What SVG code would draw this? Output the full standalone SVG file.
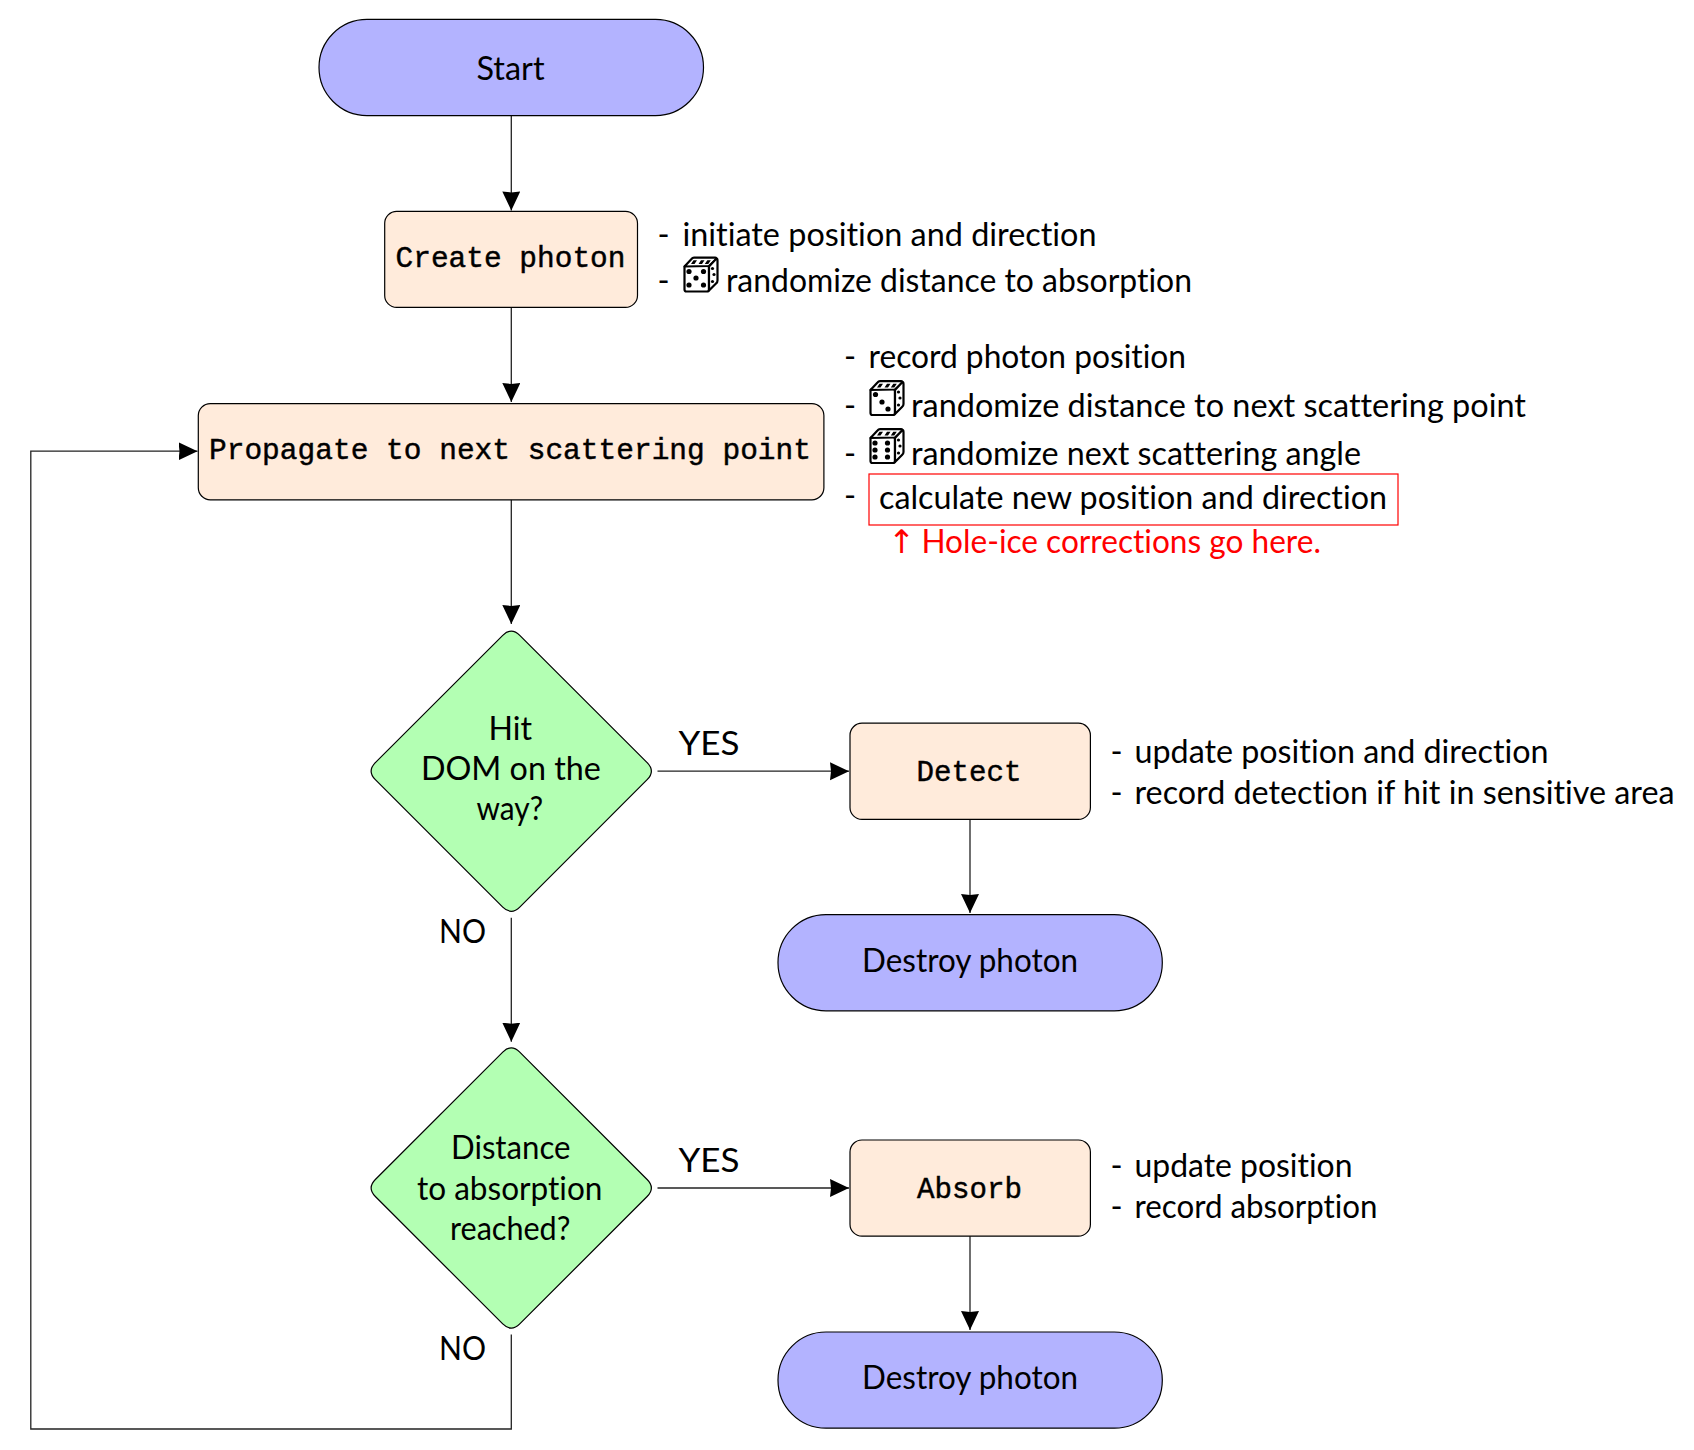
<svg xmlns="http://www.w3.org/2000/svg" xmlns:xlink="http://www.w3.org/1999/xlink" width="1694" height="1450" viewBox="0 0 1694 1450">
<style>
text{font-family:Lato,"Open Sans","Liberation Sans",sans-serif;font-size:32.5px;fill:#000;font-variant-ligatures:none}
.m{font-family:"Liberation Mono","DejaVu Sans Mono",monospace;font-size:30px;stroke:#000;stroke-width:.45}
.red{fill:#ff0000}
.pill{fill:#b3b3ff;stroke:#000;stroke-width:1.2}
.box{fill:#ffebdb;stroke:#000;stroke-width:1.2}
.dia{fill:#b3ffb3;stroke:#000;stroke-width:1.2}
.conn{fill:none;stroke:#222;stroke-width:1.3}
.pip{fill:#000;stroke:none}
.dieb{fill:#fff;stroke:#000;stroke-width:2.2;stroke-linejoin:round}
</style>
<defs>
<marker id="arr" markerUnits="userSpaceOnUse" markerWidth="20" markerHeight="20" refX="19" refY="9" orient="auto">
<path d="M0,0 L19,9 L0,18 L1,9 Z" fill="#000"/>
</marker>
<path id="diamond" d="M-8.5,-135.9 Q0,-144.4 8.5,-135.9 L135.9,-8.5 Q144.4,0 135.9,8.5 L8.5,135.9 Q0,144.4 -8.5,135.9 L-135.9,8.5 Q-144.4,0 -135.9,-8.5 Z"/>
<g id="die">
<path class="dieb" d="M1.5,11 Q1.5,9 3.5,9 L24,9 Q26,9 26,11 L26,33 Q26,35 24,35 L3.5,35 Q1.5,35 1.5,33 Z"/>
<path class="dieb" d="M1.5,10 L8.5,2.5 Q9.5,1.2 11,1.2 L32,1.2 Q34,1.2 33,3 L26,9.5 Z" />
<path class="dieb" d="M26,10 L33,2.5 Q34.5,1.4 34.5,4 L34.5,24 Q34.5,26 33,27 L26,34 Z"/>
<path class="pip" d="M8,7.5 l2.5,-3.8 h3.5 l-2.5,3.8 z M15.5,7.5 l2.5,-3.8 h3.5 l-2.5,3.8 z M21.8,7.5 l2.5,-3.8 h3.5 l-2.5,3.8 z"/>
<circle class="pip" cx="29.5" cy="12" r="1.6"/><circle class="pip" cx="31" cy="18" r="1.6"/><circle class="pip" cx="29.5" cy="25" r="1.6"/>
</g>
</defs>

<g id="connectors">
<path class="conn" marker-end="url(#arr)" d="M511.3,115.6 V210.4"/>
<path class="conn" marker-end="url(#arr)" d="M511.3,307.4 V402"/>
<path class="conn" marker-end="url(#arr)" d="M511.3,499.8 V624"/>
<path class="conn" marker-end="url(#arr)" d="M511.3,917.8 V1041.7"/>
<path class="conn" marker-end="url(#arr)" d="M657.5,771.2 H849"/>
<path class="conn" marker-end="url(#arr)" d="M657.5,1188 H849"/>
<path class="conn" marker-end="url(#arr)" d="M970,819.3 V913"/>
<path class="conn" marker-end="url(#arr)" d="M970,1236 V1330"/>
<path class="conn" marker-end="url(#arr)" d="M511.3,1334.5 V1429 H30.8 V451.2 H197.5"/>
</g>

<g id="start"><rect class="pill" x="319" y="19.4" width="384.5" height="96.2" rx="48" ry="48"/>
<text x="476.5" y="79.5" textLength="68" lengthAdjust="spacingAndGlyphs">Start</text></g>

<g id="create"><rect class="box" x="384.7" y="211.3" width="252.8" height="96.1" rx="12"/>
<text class="m" x="395.5" y="267.2" textLength="230" lengthAdjust="spacingAndGlyphs">Create photon</text></g>

<g id="propagate"><rect class="box" x="198.3" y="403.6" width="625.6" height="96.2" rx="12"/>
<text class="m" x="209" y="459" textLength="602" lengthAdjust="spacingAndGlyphs">Propagate to next scattering point</text></g>

<g id="hit"><use href="#diamond" class="dia" transform="translate(511.25,771.2)"/>
<text x="488.5" y="740" textLength="43.5" lengthAdjust="spacingAndGlyphs">Hit</text>
<text x="420.9" y="779.5" textLength="180" lengthAdjust="spacingAndGlyphs">DOM on the</text>
<text x="476.5" y="819.8" textLength="66.5" lengthAdjust="spacingAndGlyphs">way?</text></g>

<g id="distance"><use href="#diamond" class="dia" transform="translate(511.25,1188)"/>
<text x="451" y="1158.6" textLength="119.5" lengthAdjust="spacingAndGlyphs">Distance</text>
<text x="417" y="1200" textLength="185.4" lengthAdjust="spacingAndGlyphs">to absorption</text>
<text x="450" y="1239.5" textLength="120.4" lengthAdjust="spacingAndGlyphs">reached?</text></g>

<g id="detect"><rect class="box" x="850" y="723.2" width="240.4" height="96.2" rx="12"/>
<text class="m" x="916.5" y="781.2" textLength="105" lengthAdjust="spacingAndGlyphs">Detect</text></g>

<g id="absorb"><rect class="box" x="850" y="1140" width="240.4" height="96.2" rx="12"/>
<text class="m" x="917" y="1198.2" textLength="105" lengthAdjust="spacingAndGlyphs">Absorb</text></g>

<g id="destroy1"><rect class="pill" x="778" y="914.6" width="384.3" height="96.2" rx="48"/>
<text x="862" y="971.5" textLength="216" lengthAdjust="spacingAndGlyphs">Destroy photon</text></g>

<g id="destroy2"><rect class="pill" x="778" y="1332" width="384.3" height="96.2" rx="48"/>
<text x="862" y="1388.5" textLength="216" lengthAdjust="spacingAndGlyphs">Destroy photon</text></g>

<g id="labels">
<text x="678.5" y="755" textLength="61" lengthAdjust="spacingAndGlyphs">YES</text>
<text x="678.5" y="1172" textLength="61" lengthAdjust="spacingAndGlyphs">YES</text>
<text x="439" y="943" textLength="47" lengthAdjust="spacingAndGlyphs">NO</text>
<text x="439" y="1360" textLength="47" lengthAdjust="spacingAndGlyphs">NO</text>
</g>

<g id="notes-create">
<text x="657.5" y="245.5">-</text><text x="682.5" y="245.5" textLength="414" lengthAdjust="spacingAndGlyphs">initiate position and direction</text>
<text x="657.5" y="292">-</text><use href="#die" transform="translate(683,256.5)"/>
<circle class="pip" cx="689" cy="271.5" r="2.6"/><circle class="pip" cx="703.5" cy="271.5" r="2.6"/><circle class="pip" cx="696" cy="278" r="2.6"/><circle class="pip" cx="689" cy="285" r="2.6"/><circle class="pip" cx="703.5" cy="285" r="2.6"/>
<text x="726" y="292" textLength="466" lengthAdjust="spacingAndGlyphs">randomize distance to absorption</text>
</g>

<g id="notes-propagate">
<text x="844" y="367.7">-</text><text x="868.5" y="367.7" textLength="317.5" lengthAdjust="spacingAndGlyphs">record photon position</text>
<text x="844" y="416.5">-</text><use href="#die" transform="translate(869,380)"/>
<circle class="pip" cx="875.5" cy="394.5" r="2.6"/><circle class="pip" cx="882" cy="402" r="2.6"/><circle class="pip" cx="888" cy="409" r="2.6"/>
<text x="911" y="416.5" textLength="615" lengthAdjust="spacingAndGlyphs">randomize distance to next scattering point</text>
<text x="844" y="464.5">-</text><use href="#die" transform="translate(869,428)"/>
<circle class="pip" cx="875" cy="443" r="2.6"/><circle class="pip" cx="887.5" cy="443" r="2.6"/><circle class="pip" cx="875" cy="450" r="2.6"/><circle class="pip" cx="887.5" cy="450" r="2.6"/><circle class="pip" cx="875" cy="457" r="2.6"/><circle class="pip" cx="887.5" cy="457" r="2.6"/>
<text x="911" y="464.5" textLength="450" lengthAdjust="spacingAndGlyphs">randomize next scattering angle</text>
<text x="844" y="506.7">-</text><rect x="869" y="474" width="529" height="51" fill="none" stroke="#f00" stroke-width="1.2"/>
<text x="879" y="509" textLength="508" lengthAdjust="spacingAndGlyphs">calculate new position and direction</text>
<text class="red" x="888" y="553" style="font-family:'DejaVu Sans',sans-serif">↑</text>
<text class="red" x="921.4" y="553" textLength="399.5" lengthAdjust="spacingAndGlyphs">Hole-ice corrections go here.</text>
</g>

<g id="notes-detect">
<text x="1110.5" y="763">-</text><text x="1134.5" y="763" textLength="414" lengthAdjust="spacingAndGlyphs">update position and direction</text>
<text x="1110.5" y="803.5">-</text><text x="1134.5" y="803.5" textLength="540" lengthAdjust="spacingAndGlyphs">record detection if hit in sensitive area</text>
</g>

<g id="notes-absorb">
<text x="1110.5" y="1177">-</text><text x="1134.5" y="1177" textLength="218" lengthAdjust="spacingAndGlyphs">update position</text>
<text x="1110.5" y="1217.5">-</text><text x="1134.5" y="1217.5" textLength="243" lengthAdjust="spacingAndGlyphs">record absorption</text>
</g>
</svg>
